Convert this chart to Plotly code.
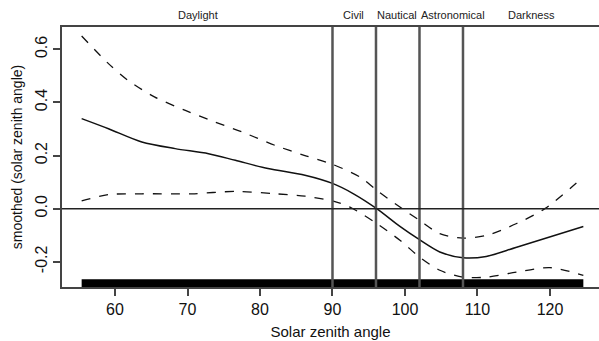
import plotly.graph_objects as go

# fitted smooth (solar zenith angle)
fit_x = [55.4, 59.1, 63.7, 68.3, 72.9, 76.6, 81.1, 86.2, 90.0, 92.9, 96.1, 99.3, 102.0, 104.8, 108.0, 111.2, 115.4, 124.6]
fit_y = [0.339, 0.301, 0.251, 0.226, 0.207, 0.182, 0.151, 0.126, 0.095, 0.056, 0.0, -0.067, -0.117, -0.163, -0.185, -0.180, -0.145, -0.067]

upper_x = [55.4, 59.1, 61.8, 65.5, 69.7, 73.8, 77.5, 82.1, 86.2, 90.0, 93.8, 96.1, 99.3, 102.0, 104.8, 108.0, 111.2, 115.4, 119.3, 124.6]
upper_y = [0.650, 0.546, 0.483, 0.420, 0.370, 0.326, 0.289, 0.238, 0.200, 0.167, 0.119, 0.069, 0.006, -0.044, -0.094, -0.111, -0.101, -0.056, 0.0, 0.119]

lower_x = [55.4, 59.1, 63.7, 70.6, 76.6, 82.1, 86.2, 90.0, 92.4, 96.1, 99.3, 102.0, 104.8, 108.0, 111.2, 115.4, 120.0, 124.6]
lower_y = [0.029, 0.053, 0.056, 0.056, 0.065, 0.056, 0.047, 0.029, 0.006, -0.056, -0.119, -0.182, -0.232, -0.258, -0.258, -0.239, -0.222, -0.251]

rug_x = [55.4, 124.6]
rug_y = [-0.295, -0.266]

twilight_bounds = [90, 96, 102, 108]
period_labels = ["Daylight", "Civil", "Nautical", "Astronomical", "Darkness"]
period_pos = [71.4, 92.9, 98.9, 106.6, 117.5]

x_ticks = [60, 70, 80, 90, 100, 110, 120]
y_ticks = [-0.2, 0.0, 0.2, 0.4, 0.6]

fig = go.Figure()

# rug
fig.add_trace(go.Scatter(
    x=[rug_x[0], rug_x[1], rug_x[1], rug_x[0], rug_x[0]],
    y=[rug_y[0], rug_y[0], rug_y[1], rug_y[1], rug_y[0]],
    fill="toself", fillcolor="black", mode="lines",
    line=dict(color="black", width=0), showlegend=False, hoverinfo="skip"))

fig.add_trace(go.Scatter(x=upper_x, y=upper_y, mode="lines", line=dict(color="#111", width=1.3, dash="dash", shape="spline", smoothing=0.8), showlegend=False))
fig.add_trace(go.Scatter(x=lower_x, y=lower_y, mode="lines", line=dict(color="#111", width=1.3, dash="dash", shape="spline", smoothing=0.8), showlegend=False))
fig.add_trace(go.Scatter(x=fit_x, y=fit_y, mode="lines", line=dict(color="#111", width=1.5, shape="spline", smoothing=0.8), showlegend=False))

for b in twilight_bounds:
    fig.add_shape(type="line", x0=b, x1=b, y0=0, y1=1, xref="x", yref="paper",
                  line=dict(color="#555", width=2.5))

fig.add_shape(type="line", x0=0, x1=1, y0=0, y1=0, xref="paper", yref="y",
              line=dict(color="#222", width=1.5))

for lab, pos in zip(period_labels, period_pos):
    fig.add_annotation(x=pos, y=1, xref="x", yref="paper", yshift=4, text=lab,
                       showarrow=False, yanchor="bottom",
                       font=dict(size=11, color="#222", family="Liberation Sans"))

fig.update_layout(
    width=599, height=341,
    margin=dict(l=62, r=0, t=27, b=54),
    plot_bgcolor="white", paper_bgcolor="white",
    font=dict(family="Liberation Sans", color="#111"),
    xaxis=dict(range=[52.69, 126.76], tickvals=x_ticks, ticks="outside", ticklen=7,
               tickcolor="#444", tickwidth=1.5, showline=True, linecolor="#444", linewidth=2,
               mirror=True, showgrid=False, zeroline=False, tickfont=dict(size=16),
               title=dict(text="Solar zenith angle", font=dict(size=15), standoff=9)),
    yaxis=dict(range=[-0.295, 0.684], tickvals=y_ticks, ticktext=["-0.2", "0.0", "0.2", "0.4", "0.6"],
               ticks="outside", ticklen=7, tickcolor="#444", tickwidth=1.5, tickangle=-90,
               showline=True, linecolor="#444", linewidth=2, showgrid=False, zeroline=False,
               tickfont=dict(size=16),
               title=dict(text="smoothed (solar zenith angle)", font=dict(size=14), standoff=7)),
)

fig.write_html("out.html")
